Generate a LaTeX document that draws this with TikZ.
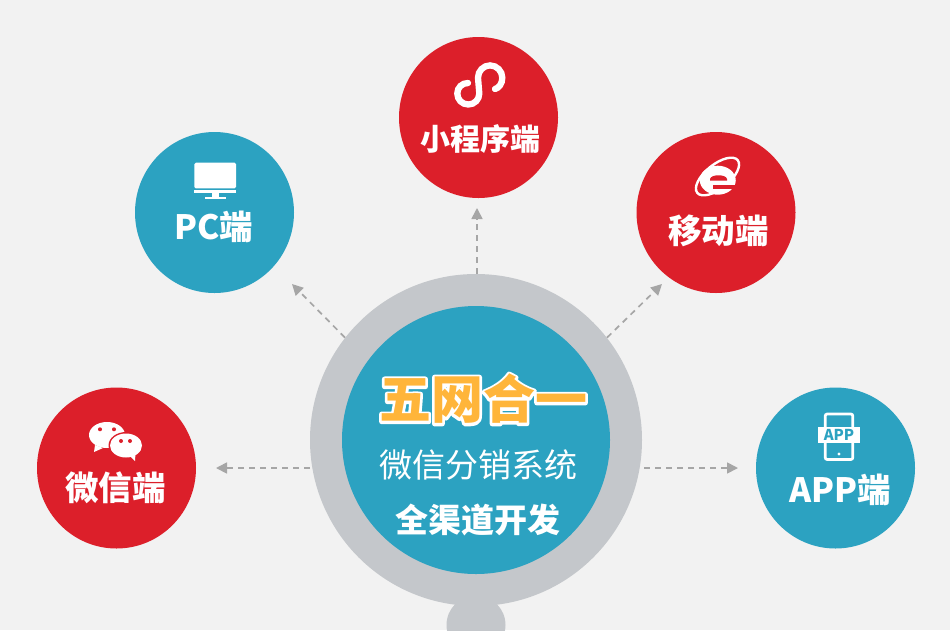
\documentclass[tikz,border=0pt]{standalone}
\usepackage{fontspec}
\setmainfont{Noto Sans CJK SC}
\newfontfamily\tepi{Noto Sans CJK SC}[BoldFeatures={FakeBold=10}]
\usetikzlibrary{calc,positioning,arrows.meta,shapes.geometric}
\definecolor{latar}{HTML}{F2F2F2}
\definecolor{merah}{HTML}{DC1F2A}
\definecolor{biru}{HTML}{2CA2C1}
\definecolor{cincin}{HTML}{C4C7CB}
\definecolor{panah}{HTML}{A6A6A6}
\definecolor{jingga}{HTML}{FFB53A}
\tikzset{
	bulat/.style={ellipse,inner sep=0pt,minimum width=159pt,minimum height=161pt},
	judul/.style={white,inner sep=0pt,font=\fontsize{33.5pt}{34pt}\selectfont\bfseries},
	putus/.style={panah,line width=1.7pt,dash pattern=on 6pt off 5pt,-{Triangle[width=11pt,length=11pt]}}
}
\begin{document}
\begin{tikzpicture}[x=1pt,y=-1pt]

% latar
\useasboundingbox (0,0) rectangle (950,630);
\fill[latar] (0,0) rectangle (950,630);

% lingkaran tengah
\fill[cincin] (476,625) circle (29.5);
\node[circle,inner sep=0pt,fill=cincin,minimum size=332pt] (ring) at (476,440) {};
\node[circle,inner sep=0pt,fill=biru,minimum size=268pt] (pusat) at (476,440) {};

% lingkaran luar
\node[bulat,fill=merah] (mini) at (478.5,117.5) {};
\node[bulat,fill=biru] (pc) at (214.5,212.5) {};
\node[bulat,fill=merah] (mobile) at (716,212.5) {};
\node[bulat,fill=merah] (wechat) at (116.5,468) {};
\node[bulat,fill=biru] (app) at (835.5,468) {};

% ujung panah
\coordinate (tmini) at (477,208);
\coordinate (tpc) at (292,284);
\coordinate (tmobile) at (662,284);
\coordinate (twechat) at (216,468);
\coordinate (tapp) at (738,468);

\draw[putus] (ring.north -| tmini) -- (tmini);
\draw[putus] (ring.142) -- (tpc);
\draw[putus] (ring.38) -- (tmobile);
\draw[putus] (ring.west |- twechat) -- (twechat);
\draw[putus,shorten <=2pt] (ring.east |- tapp) -- (tapp);

% tulisan tengah
\node[white,inner sep=0pt,font=\fontsize{52pt}{52pt}\selectfont\tepi\bfseries] (limab) at (483,399) {\special{pdf:code 1 j 1 J}五网合一};
\node[jingga,inner sep=0pt,font=\fontsize{52pt}{52pt}\selectfont\bfseries] (lima) at (483,399) {五网合一};
\node[white,inner sep=0pt,font=\fontsize{33pt}{33pt}\selectfont] (sistem) at (478,465) {微信分销系统};
\node[judul,font=\fontsize{33pt}{33pt}\selectfont\bfseries] (semua) at (478,520) {全渠道开发};

% tulisan luar
\node[judul,font=\fontsize{30pt}{30pt}\selectfont\bfseries] (lmini) at (480,139) {小程序端};
\node[judul] (lpc) at (213.5,227) {PC端};
\node[judul] (lmobile) at (718.5,231) {移动端};
\node[judul] (lwechat) at (115.5,488) {微信端};
\node[judul] (lapp) at (840.5,490) {APP端};

% ikon program mini
\draw[white,line width=6.3pt,line cap=round] (468,83) .. controls (462,83) and (457.3,87.5) .. (457.3,93.5) .. controls (457.3,99.5) and (462,104.5) .. (468.3,104.5) .. controls (474.5,104.5) and (479.3,99.5) .. (479.3,93.5) -- (478,77.7) .. controls (478,71) and (483.5,65.4) .. (490,65.4) .. controls (496.8,65.4) and (502.3,71) .. (502.3,77.7) .. controls (502.3,83.5) and (499,88) .. (495,89);

% ikon monitor
\fill[white,rounded corners=1.5pt] (194.3,162.7) rectangle (236,188.3);
\fill[white] (194.3,190) rectangle (236,192.7);
\fill[white] (212,192.7) rectangle (219,197);
\fill[white] (205,196.7) rectangle (226,199.3);

% ikon e
\draw[white,line width=2.4pt,rotate around={39:(717.5,176.5)}] (717.5,176.5) ellipse (26 and 12);
\fill[white] (717.75,180.2) ellipse (18 and 14.5);
\fill[merah] (710,180.5) -- (710,179) .. controls (711,174) and (726,174) .. (727,179) -- (727,180.5) -- cycle;
\fill[merah] (713,185) rectangle (737,189.3);

% ikon wechat
\fill[white] (107,435) ellipse (18 and 13);
\fill[white] (95,445) -- (94,452) -- (103,448) -- cycle;
\fill[merah] (126,445.5) ellipse (17.5 and 13.5);
\fill[white] (126,445.5) ellipse (16 and 12);
\fill[white] (130,456) -- (135,461) -- (135.5,453) -- cycle;
\foreach \xa/\ya in {100/429.3,114/429.3,121/441,130/441} \fill[merah] (\xa,\ya) circle (2);

% ikon app
\draw[white,line width=2.7pt,rounded corners=2pt] (825.2,414) rectangle (852.8,459.5);
\fill[white] (818,426.7) rectangle (860,443.3);
\fill[white] (839,454) circle (1.7);
\node[biru,inner sep=0pt,font=\fontsize{15pt}{15pt}\selectfont\bfseries] (lapk) at (839,435) {APP};

\end{tikzpicture}
\end{document}
